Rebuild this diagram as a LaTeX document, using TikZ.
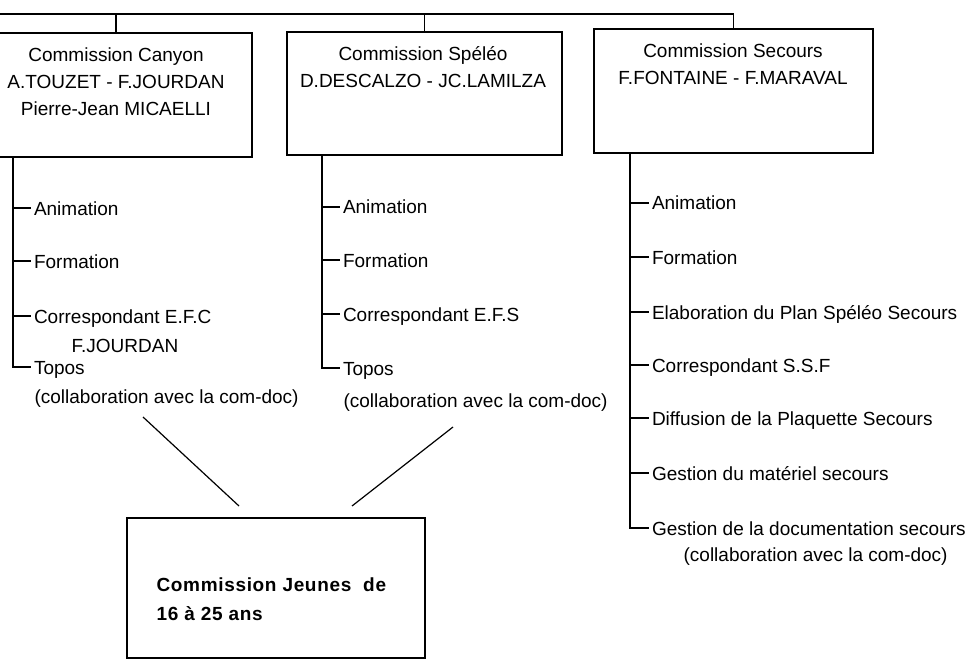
\documentclass[tikz,border=0pt]{standalone}
\usepackage{fontspec}
\setmainfont{Liberation Sans}
\newfontfamily\jeunesfont[LetterSpace=3.5]{Liberation Sans}
\begin{document}
\begin{tikzpicture}[x=1pt,y=-1pt,
  line width=1.2pt,
  every node/.style={font=\fontsize{19}{27}\selectfont},
  box/.style={draw, rectangle, inner sep=0pt, line width=1.2pt},
  ttl/.style={anchor=base, inner sep=0pt},
  item/.style={anchor=west, inner sep=0pt, outer xsep=3pt, text height=14pt, text depth=0pt},
  cont/.style={anchor=base west, inner sep=0pt},
  jeunes/.style={anchor=base west, inner sep=0pt, font=\jeunesfont\bfseries\fontsize{19}{29}\selectfont}
]
\useasboundingbox (0,0) rectangle (976,660);
\clip (0,0) rectangle (976,660);

% boxes
\node[box, minimum width=272pt, minimum height=124pt] (b1) at (116,95) {};
\node[box, minimum width=275pt, minimum height=123pt] (b2) at (424.5,93.5) {};
\node[box, minimum width=279pt, minimum height=124pt] (b3) at (733.5,91) {};
\node[box, minimum width=298pt, minimum height=140pt] (b4) at (276,588) {};

% titles
\node[ttl] (t1a) at (116,62) {Commission Canyon};
\node[ttl] (t1b) at (116,89) {A.TOUZET - F.JOURDAN};
\node[ttl] (t1c) at (116,116) {Pierre-Jean MICAELLI};
\node[ttl] (t2a) at (423,61) {Commission Spéléo};
\node[ttl] (t2b) at (423,88) {D.DESCALZO - JC.LAMILZA};
\node[ttl] (t3a) at (733,58) {Commission Secours};
\node[ttl] (t3b) at (733,85) {F.FONTAINE - F.MARAVAL};

% top connector
\coordinate (topL) at (-10,14);
\coordinate (topR) at (733.5,14);
\draw (topL) -- (topR) -- (b3.north);
\draw (b1.north) -- (b1.north |- topL);
\draw (b2.north) -- (b2.north |- topL);

% branch origins
\coordinate (v1) at (13,157);
\coordinate (v2) at (322,155);
\coordinate (v3) at (630,153);

% left items
\node[item] (c1a) at (31,208) {Animation};
\node[item] (c1b) at (31,261) {Formation};
\node[item] (c1c) at (31,316) {Correspondant E.F.C};
\node[cont] (c1c2) at (71,352) {F.JOURDAN};
\node[item] (c1d) at (31,367) {Topos};
\node[cont] (c1d2) at (34,403) {(collaboration avec la com-doc)};
\foreach \n in {c1a,c1b,c1c} \draw (v1 |- \n.west) -- (\n.west);
\draw (v1) |- (c1d.west);

% middle items
\node[item] (c2a) at (340,207) {Animation};
\node[item] (c2b) at (340,260) {Formation};
\node[item] (c2c) at (340,314) {Correspondant E.F.S};
\node[item] (c2d) at (340,368) {Topos};
\node[cont] (c2d2) at (343,407) {(collaboration avec la com-doc)};
\foreach \n in {c2a,c2b,c2c} \draw (v2 |- \n.west) -- (\n.west);
\draw (v2) |- (c2d.west);

% right items
\node[item] (c3a) at (649,203) {Animation};
\node[item] (c3b) at (649,257) {Formation};
\node[item] (c3c) at (649,312) {Elaboration du Plan Spéléo Secours};
\node[item] (c3d) at (649,365) {Correspondant S.S.F};
\node[item] (c3e) at (649,418) {Diffusion de la Plaquette Secours};
\node[item] (c3f) at (649,473) {Gestion du matériel secours};
\node[item] (c3g) at (649,528) {Gestion de la documentation secours};
\node[cont] (c3g2) at (683,561) {(collaboration avec la com-doc)};
\foreach \n in {c3a,c3b,c3c,c3d,c3e,c3f} \draw (v3 |- \n.west) -- (\n.west);
\draw (v3) |- (c3g.west);

% diagonals towards Commission Jeunes
\coordinate (d1a) at (143,417);
\coordinate (d1b) at (239,506);
\coordinate (d2a) at (453,427);
\coordinate (d2b) at (352,506);
\draw (d1a) -- (d1b);
\draw (d2a) -- (d2b);

% Commission Jeunes text
\node[jeunes] (j1) at (156,591) {Commission Jeunes\ \ de};
\node[jeunes] (j2) at (156,620) {16 à 25 ans};
\end{tikzpicture}
\end{document}
